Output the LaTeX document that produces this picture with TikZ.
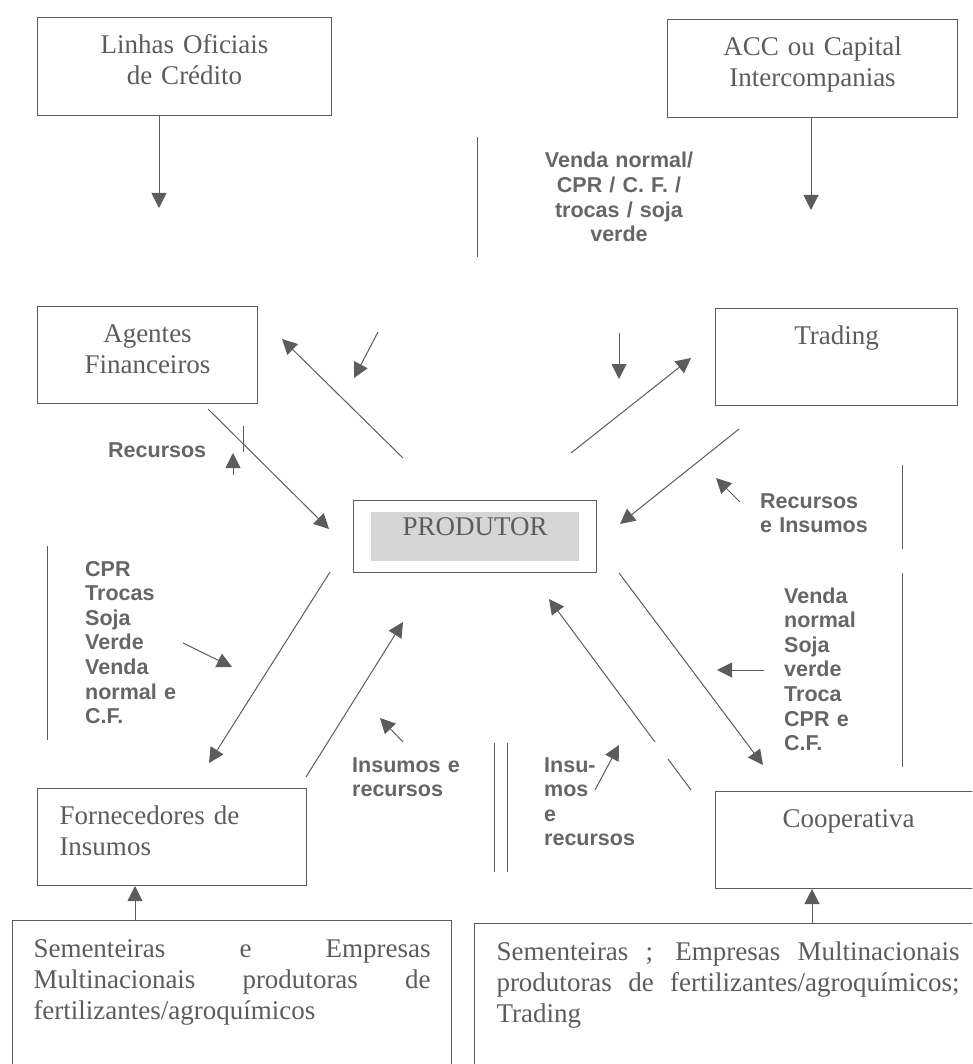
\documentclass[tikz,border=0pt]{standalone}
\usepackage{fontspec}
\setmainfont{Liberation Serif}
\setsansfont{Liberation Sans}
\usetikzlibrary{arrows.meta,fit}
\definecolor{ink}{gray}{0.36}
\definecolor{tinta}{gray}{0.40}
\definecolor{cinza}{gray}{0.84}
\newcommand{\boxfont}{\fontsize{27}{31}\selectfont\tolerance=10000\relax}
\tikzset{%
box/.style={draw=ink,line width=1pt,anchor=north west,inner xsep=0pt,inner ysep=0pt,
            text=ink,align=center,text height=36pt,font=\boxfont},
txtbox/.style={box,align=left,inner xsep=21pt},
rotulo/.style={anchor=base west,inner sep=0pt,align=left,text=tinta,text width=150pt,
               font=\fontsize{21.5}{24.6}\selectfont\sffamily\bfseries},
flow/.style={draw=ink,line width=1pt,-{Triangle[length=15pt,width=15pt]}},
fio/.style={draw=ink,line width=1pt}
}

\begin{document}
\begin{tikzpicture}[x=1pt,y=-1pt]
\useasboundingbox (0,0) rectangle (972,1064);
\clip (0,0) rectangle (972,1064);
%%
\node[box,text width=294pt,text depth=62pt] (linhas)  at (37,17)   {Linhas Oficiais\\de Crédito};
\node[box,text width=290pt,text depth=62pt] (acc)     at (667,19)  {ACC ou Capital\\Intercompanias};
\node[box,text width=220pt,text depth=61pt] (agentes) at (37,306)  {Agentes\\Financeiros};
\node[box,text width=242pt,text depth=61pt] (trading) at (715,308) {Trading};
\node[box,text width=266pt,text depth=61pt] (coop)    at (715,791) {Cooperativa};
\node[txtbox,text width=225pt,text depth=61pt,inner xsep=22pt] (forn) at (37,788) {Fornecedores de\\Insumos};
%%
\node[txtbox,align=justify,text width=397pt,text depth=115pt,text height=37pt] (semL) at (12,920)
     {Sementeiras e Empresas\linebreak Multinacionais produtoras de\linebreak fertilizantes/agroquímicos};
\node[txtbox,align=justify,text width=463pt,text depth=115pt,text height=37pt,inner xsep=22pt] (semR) at (474,923)
     {Sementeiras ; Empresas Multinacionais\linebreak produtoras de fertilizantes/agroquímicos;\linebreak Trading};
%%
\node[fill=cinza,text=ink,inner sep=0pt,text width=208pt,align=center,text height=23pt,text depth=26pt,
      font=\boxfont,anchor=north west] (prodtxt) at (371,512) {PRODUTOR};
\node[draw=ink,line width=1pt,fit=(prodtxt),inner xsep=17.5pt,inner ysep=11.5pt] (produtor) {};
%%
\node[rotulo,anchor=base,align=center,text width=180pt] (vendaTop) at (619,168)
     {Venda normal/\\CPR / C. F. /\\trocas / soja\\verde};
\node[rotulo] (recAg)   at (108,457) {Recursos};
\node[rotulo] (cprL)    at (85,576)  {CPR\\Trocas\\Soja\\Verde\\Venda\\normal e\\C.F.};
\node[rotulo] (insL)    at (352,772) {Insumos e\\recursos};
\node[rotulo] (recTr)   at (760,508) {Recursos\\e Insumos};
\node[rotulo] (vendaR)  at (784,603) {Venda\\normal\\Soja\\verde\\Troca\\CPR e\\C.F.};
\node[rotulo] (insR)    at (544,772) {Insu-\\mos\\e\\recursos};
%%%%%%%%%%%%%%
%% arrow ends
\foreach \pname/\i/\j in {linE/159/208, accE/811/210, fUp/135/0, cUp/812/0,
                          p2agS/403/458, p2agE/282/339, ag2pS/208/409, ag2pE/329/529,
                          p2trS/571/453, p2trE/691/358, tr2pS/739/429, tr2pE/620/524,
                          p2coS/619/573, p2coE/763/765, co2pS/691/790, gapA/668/759,
                          gapB/655/742, co2pE/549/599,
                          p2foS/330/572, p2foE/209/763, fo2pS/306/777, fo2pE/403/622,
                          smA1/378/332, smA2/354/378, smB1/233/475, smB2/233/453,
                          smC1/619/333, smC2/619/379, smD1/740/502, smD2/716/478,
                          smE1/764/670, smE2/717/670, smF1/595/790, smF2/619/745,
                          smG1/403/742, smG2/380/718, smH1/183/643, smH2/232/667,
                          tickA/243/426, tickB/243/452,
                          barT1/477/137, barT2/477/257, barL1/47/546, barL2/47/740,
                          barR1/902/465, barR2/902/549, barR3/902/573, barR4/902/767,
                          dblA1/494/743, dblA2/494/872, dblB1/507/743, dblB2/507/872%
                         }
     \coordinate (\pname) at (\i,\j);
%%
\draw[flow] (linhas.south -| linE) -- (linE);
\draw[flow] (acc.south -| accE)    -- (accE);
\draw[flow] (semL.north -| fUp)    -- (forn.south -| fUp);
\draw[flow] (semR.north -| cUp)    -- (coop.south -| cUp);
%%
\draw[flow] (p2agS) -- (p2agE);
\draw[flow] (ag2pS) -- (ag2pE);
\draw[flow] (p2trS) -- (p2trE);
\draw[flow] (tr2pS) -- (tr2pE);
\draw[flow] (p2coS) -- (p2coE);
\draw[fio]  (co2pS) -- (gapA);
\draw[flow] (gapB)  -- (co2pE);
\draw[flow] (p2foS) -- (p2foE);
\draw[flow] (fo2pS) -- (fo2pE);
%%
\foreach \s in {A,B,C,D,E,F,G,H}
     \draw[flow] (sm\s1) -- (sm\s2);
%%
\draw[fio] (tickA) -- (tickB);
\draw[fio] (barT1) -- (barT2);
\draw[fio] (barL1) -- (barL2);
\draw[fio] (barR1) -- (barR2);
\draw[fio] (barR3) -- (barR4);
\draw[fio] (dblA1) -- (dblA2);
\draw[fio] (dblB1) -- (dblB2);
\end{tikzpicture}
\end{document}
